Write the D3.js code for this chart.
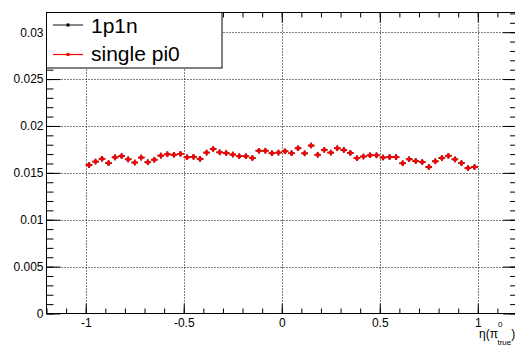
<!DOCTYPE html>
<html>
<head>
<meta charset="utf-8">
<script src="https://cdn.jsdelivr.net/npm/d3@7/dist/d3.min.js"></script>
<style>
  html, body { margin: 0; padding: 0; background: #fff; }
  svg { display: block; font-family: "Liberation Sans", Arial, Helvetica, sans-serif; }
</style>
</head>
<body>
<svg id="chart" width="515" height="351"></svg>
<script>
// ---- data ----
const binLow = -1, binHigh = 1, nBins = 60;
const seriesNames = ["1p1n", "single pi0"];
const seriesColors = ["#000000", "#ff0000"];
// single pi0 (red) values, one per bin of eta
const singlePi0 = [
  0.01583, 0.01620, 0.01650, 0.01604, 0.01665, 0.01679, 0.01644, 0.01610, 0.01663, 0.01613,
  0.01640, 0.01684, 0.01698, 0.01693, 0.01703, 0.01666, 0.01671, 0.01649, 0.01716, 0.01754,
  0.01719, 0.01711, 0.01695, 0.01677, 0.01677, 0.01658, 0.01736, 0.01736, 0.01709, 0.01716,
  0.01730, 0.01709, 0.01762, 0.01708, 0.01791, 0.01693, 0.01745, 0.01716, 0.01762, 0.01743,
  0.01713, 0.01656, 0.01674, 0.01687, 0.01687, 0.01663, 0.01668, 0.01667, 0.01602, 0.01645,
  0.01626, 0.01615, 0.01562, 0.01623, 0.01658, 0.01682, 0.01644, 0.01604, 0.01551, 0.01562
];
// 1p1n (black) is hidden under the red points
const oneP1n = singlePi0.slice();
const yErr = 0.0003;
const xMajorTicks = [-1, -0.5, 0, 0.5, 1];
const xTickLabels = ["-1", "-0.5", "0", "0.5", "1"];
const yMajorTicks = [0, 0.005, 0.01, 0.015, 0.02, 0.025, 0.03];
const yTickLabels = ["0", "0.005", "0.01", "0.015", "0.02", "0.025", "0.03"];

// ---- layout ----
const svg = d3.select("#chart");
const L = 46.5, R = 517, T = 12.5, B = 313.5;
const x = d3.scaleLinear().domain([-1.2, 1.2]).range([L, R]);
const y = d3.scaleLinear().domain([0, 0.0321]).range([B, T]);
const binW = (binHigh - binLow) / nBins;
const centers = d3.range(nBins).map(i => binLow + (i + 0.5) * binW);

svg.append("rect").attr("width", 515).attr("height", 351).attr("fill", "#fff");

// grid
const grid = svg.append("g").attr("stroke", "#000").attr("stroke-width", 1).attr("stroke-dasharray", "1,2");
grid.selectAll("line.gx").data(xMajorTicks).join("line")
  .attr("x1", d => Math.round(x(d)) + 0.5).attr("x2", d => Math.round(x(d)) + 0.5)
  .attr("y1", T).attr("y2", B);
grid.selectAll("line.gy").data(yMajorTicks.slice(1)).join("line")
  .attr("x1", L).attr("x2", R)
  .attr("y1", d => Math.round(y(d)) + 0.5).attr("y2", d => Math.round(y(d)) + 0.5);

// axes
const xMinor = d3.range(-1.2, 1.2001, 0.1).map(v => +v.toFixed(2));
const yMinor = d3.range(0, 0.0321, 0.001).map(v => +v.toFixed(4));
function styleAxis(g) {
  g.select(".domain").remove();
  g.selectAll("line").attr("stroke", "#000").attr("stroke-width", 1);
  g.selectAll("text").attr("fill", "#000").attr("font-size", 12)
    .attr("font-family", "'Liberation Sans', Arial, Helvetica, sans-serif");
}
svg.append("g").attr("transform", `translate(0,${B})`)
  .call(d3.axisBottom(x).tickValues(xMinor).tickSizeInner(-5).tickSizeOuter(0).tickFormat(""))
  .call(styleAxis);
svg.append("g").attr("transform", `translate(0,${B})`)
  .call(d3.axisBottom(x).tickValues(xMajorTicks).tickSizeInner(-10).tickSizeOuter(0).tickPadding(5)
    .tickFormat((d, i) => xTickLabels[i]))
  .call(styleAxis);
svg.append("g").attr("transform", `translate(0,${T})`)
  .call(d3.axisTop(x).tickValues(xMinor).tickSizeInner(-5).tickSizeOuter(0).tickFormat(""))
  .call(styleAxis);
svg.append("g").attr("transform", `translate(0,${T})`)
  .call(d3.axisTop(x).tickValues(xMajorTicks).tickSizeInner(-10).tickSizeOuter(0).tickFormat(""))
  .call(styleAxis);
svg.append("g").attr("transform", `translate(${L},0)`)
  .call(d3.axisLeft(y).tickValues(yMinor).tickSizeInner(-7).tickSizeOuter(0).tickFormat(""))
  .call(styleAxis);
svg.append("g").attr("transform", `translate(${L},0)`)
  .call(d3.axisLeft(y).tickValues(yMajorTicks).tickSizeInner(-14).tickSizeOuter(0).tickPadding(3)
    .tickFormat((d, i) => yTickLabels[i]))
  .call(styleAxis);
svg.append("g").attr("transform", `translate(${R},0)`)
  .call(d3.axisRight(y).tickValues(yMinor).tickSizeInner(-7).tickSizeOuter(0).tickFormat(""))
  .call(styleAxis);
svg.append("g").attr("transform", `translate(${R},0)`)
  .call(d3.axisRight(y).tickValues(yMajorTicks).tickSizeInner(-14).tickSizeOuter(0).tickFormat(""))
  .call(styleAxis);

// frame
svg.append("rect").attr("x", L).attr("y", T).attr("width", R - L).attr("height", B - T)
  .attr("fill", "none").attr("stroke", "#000").attr("stroke-width", 1);

// data points
function drawSeries(vals, color) {
  const g = svg.append("g");
  const pts = g.selectAll("g").data(vals.map((v, i) => ({x: centers[i], v}))).join("g");
  pts.append("line")
    .attr("x1", d => x(d.x - binW / 2)).attr("x2", d => x(d.x + binW / 2))
    .attr("y1", d => y(d.v)).attr("y2", d => y(d.v))
    .attr("stroke", color).attr("stroke-width", 1.6);
  pts.append("line")
    .attr("x1", d => x(d.x)).attr("x2", d => x(d.x))
    .attr("y1", d => y(d.v - yErr)).attr("y2", d => y(d.v + yErr))
    .attr("stroke", color).attr("stroke-width", 1.6);
  pts.append("rect")
    .attr("x", d => x(d.x) - 1.5).attr("y", d => y(d.v) - 1.5)
    .attr("width", 3).attr("height", 3).attr("fill", color);
}
drawSeries(oneP1n, seriesColors[0]);
drawSeries(singlePi0, seriesColors[1]);

// x-axis title  η(π^0_true)
const xt = svg.append("text").attr("x", 479).attr("y", 338).attr("font-size", 12).attr("fill", "#000");
xt.append("tspan").text("η(π");
xt.append("tspan").attr("font-size", 8).attr("dy", -11).text("0");
xt.append("tspan").attr("font-size", 8).attr("dx", -5).attr("dy", 18).text("true");
xt.append("tspan").attr("dy", -7).text(")");

// legend
const lg = svg.append("g");
lg.append("rect").attr("x", L).attr("y", T).attr("width", 175.5).attr("height", 55.5)
  .attr("fill", "#fff").attr("stroke", "#000").attr("stroke-width", 1);
const rowsY = [25, 54.5], baseY = [32.5, 61];
seriesNames.forEach((name, i) => {
  lg.append("line").attr("x1", 53).attr("x2", 83).attr("y1", rowsY[i]).attr("y2", rowsY[i])
    .attr("stroke", i === 0 ? "#555" : seriesColors[i]).attr("stroke-width", i === 0 ? 1.4 : 1.2);
  lg.append("rect").attr("x", 66.5).attr("y", rowsY[i] - 1.5).attr("width", 3).attr("height", 3)
    .attr("fill", seriesColors[i]);
  lg.append("text").attr("x", 91).attr("y", baseY[i]).attr("font-size", 21).attr("fill", "#000").text(name);
});
</script>
</body>
</html>
